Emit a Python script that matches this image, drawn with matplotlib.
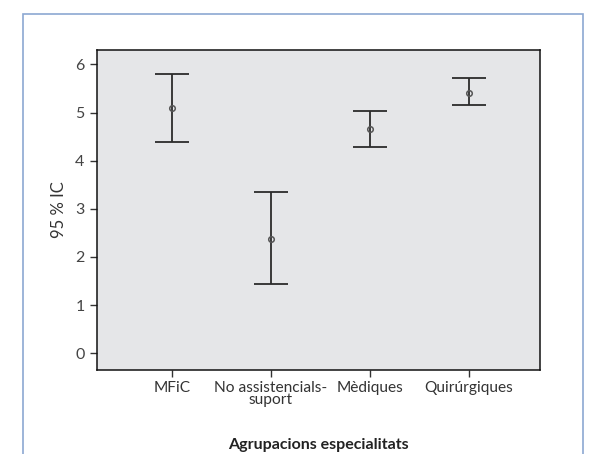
import matplotlib
matplotlib.use("Agg")
import matplotlib.pyplot as plt
from matplotlib.patches import Rectangle

categories = ["MFiC", "No assistencials-\nsuport", "Mèdiques", "Quirúrgiques"]
means = [5.09, 2.37, 4.66, 5.40]
lower = [4.39, 1.44, 4.28, 5.15]
upper = [5.81, 3.35, 5.03, 5.72]
yticks = [0, 1, 2, 3, 4, 5, 6]

plt.rcParams['font.family'] = ['Lato', 'DejaVu Sans']

W, H = 592, 454
fig = plt.figure(figsize=(W / 100, H / 100), dpi=100)
fig.patch.set_facecolor('white')

# outer frame
fig.patches.append(Rectangle((23 / W, -0.05), (583 - 23) / W, 1.05 - 14 / H,
                             transform=fig.transFigure, fill=False,
                             edgecolor='#8ca8d2', linewidth=1.2, clip_on=False))

ax = fig.add_axes([97 / W, 1 - 370 / H, (540 - 97) / W, (370 - 50) / H])
ax.set_facecolor('#e5e6e8')

x = list(range(1, len(categories) + 1))
yerr = [[m - l for m, l in zip(means, lower)], [u - m for u, m in zip(upper, means)]]
ax.errorbar(x, means, yerr=yerr, fmt='none', ecolor='#2b2b2b', elinewidth=1.3,
            capsize=12.5, capthick=1.3)
ax.plot(x, means, 'o', markersize=4, markerfacecolor='none',
        markeredgecolor='#555555', markeredgewidth=1.1)

ax.set_xlim(0.24, 4.72)
ax.set_ylim(-0.35, 6.30)
ax.set_yticks(yticks)
ax.set_xticks(x)
ax.set_xticklabels(categories, fontsize=11.2, color='#333333', linespacing=0.85)
ax.tick_params(axis='y', labelsize=11.5, colors='#333333', length=5, width=1, pad=4)
ax.tick_params(axis='x', length=5, width=1, colors='#333333', pad=3)
for lab in ax.get_yticklabels():
    lab.set_color('#444444')
for s in ax.spines.values():
    s.set_color('#111111')
    s.set_linewidth(1.1)

ax.set_ylabel('95 % IC', fontsize=12, color='#333333', labelpad=6)
fig.text(((97 + 540) / 2) / W, 1 - 445 / H, 'Agrupacions especialitats',
         ha='center', va='center', fontsize=11.5, fontweight='bold', color='#222222')

fig.savefig('out.png', dpi=100)
